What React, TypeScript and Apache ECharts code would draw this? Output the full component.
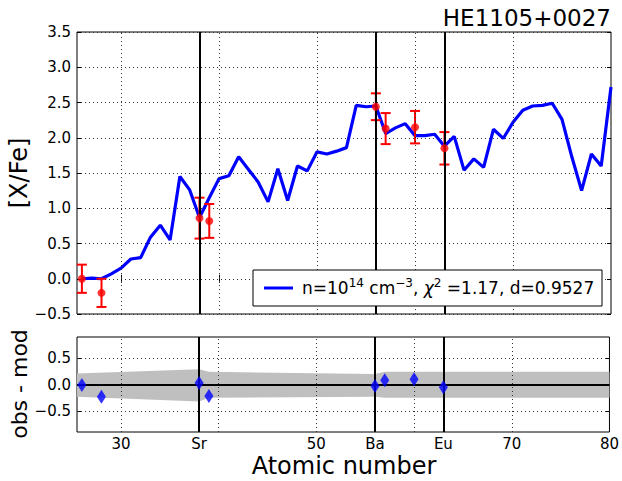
import React, { useEffect, useRef } from 'react';
import * as echarts from 'echarts';

// ---- data ----
const modelZ = [26, 27, 28, 29, 30, 31, 32, 33, 34, 35, 36, 37, 38, 39, 40, 41, 42, 43, 44, 45, 46, 47, 48, 49, 50, 51, 52, 53, 54, 55, 56, 57, 58, 59, 60, 61, 62, 63, 64, 65, 66, 67, 68, 69, 70, 71, 72, 73, 74, 75, 76, 77, 78, 79, 80];
const modelValues = [0.0, 0.01, 0.0, 0.07, 0.15, 0.28, 0.3, 0.59, 0.76, 0.55, 1.45, 1.26, 0.87, 1.15, 1.42, 1.46, 1.73, 1.55, 1.37, 1.09, 1.56, 1.11, 1.6, 1.53, 1.8, 1.77, 1.81, 1.86, 2.46, 2.44, 2.45, 2.06, 2.14, 2.2, 2.03, 2.03, 2.05, 1.88, 2.02, 1.54, 1.7, 1.58, 2.12, 1.99, 2.22, 2.39, 2.45, 2.46, 2.49, 2.26, 1.73, 1.25, 1.77, 1.6, 2.72];
const obsZ = [26, 28, 38, 39, 56, 57, 60, 63];
const obsValues = [0.0, -0.2, 0.86, 0.82, 2.44, 2.13, 2.15, 1.85];
const obsErrors = [0.2, 0.2, 0.29, 0.24, 0.19, 0.22, 0.23, 0.23];
const residuals = [-0.01, -0.23, 0.03, -0.22, -0.03, 0.08, 0.1, -0.05];
const bandZ = [25.5, 38, 39, 56, 57, 80];
const bandUpper = [0.21, 0.29, 0.24, 0.2, 0.24, 0.24];
const bandLower = [-0.23, -0.32, -0.25, -0.23, -0.25, -0.25];
const elementLines = [38, 56, 63];
const gridLinesX = [30, 40, 50, 60, 70];
const xTickValues = [30, 38, 50, 56, 63, 70, 80];
const xTickNames: Record<number, string> = { 38: 'Sr', 56: 'Ba', 63: 'Eu' };
const bottomYTicks = [-0.5, 0, 0.5];

const FONT = '"DejaVu Sans", "Liberation Sans", sans-serif';
const fmt = (v: number) => (v < 0 ? '\u2212' + Math.abs(v).toFixed(1) : v.toFixed(1));

const dotted = { type: [1, 3] as any, width: 1, color: '#333' };
const solidBlack = { type: 'solid' as any, width: 2, color: '#000' };

export default function App() {
  const ref = useRef<HTMLDivElement>(null);
  useEffect(() => {
    if (!ref.current) return;
    const chart = echarts.init(ref.current, null, { renderer: 'svg' });

    const xBase = (gridIndex: number, position: string, showLabel: boolean) => ({
      type: 'value',
      gridIndex,
      position,
      min: 25.5,
      max: 80,
      axisLine: { show: false },
      axisTick: { show: true, inside: true, length: 4, customValues: gridLinesX, lineStyle: { color: '#000' } },
      axisLabel: showLabel
        ? {
            show: true,
            customValues: xTickValues,
            formatter: (v: number) => xTickNames[v] ?? String(v),
            color: '#000',
            fontSize: 15,
            fontFamily: FONT,
            margin: 4,
          }
        : { show: false },
      splitLine: { show: false },
    });

    const option: any = {
      animation: false,
      backgroundColor: '#fff',
      grid: [
        { left: 77, top: 32, right: 11, height: 282, show: true, borderColor: '#000', borderWidth: 1, backgroundColor: 'transparent' },
        { left: 77, top: 337, right: 11, height: 95, show: true, borderColor: '#000', borderWidth: 1, backgroundColor: 'transparent' },
      ],
      xAxis: [xBase(0, 'bottom', false), xBase(1, 'bottom', true), xBase(0, 'top', false), xBase(1, 'top', false)],
      yAxis: [
        {
          type: 'value', gridIndex: 0, min: -0.5, max: 3.5, interval: 0.5,
          axisLine: { show: false },
          axisTick: { show: true, inside: true, length: 4, lineStyle: { color: '#000' } },
          axisLabel: { formatter: fmt, color: '#000', fontSize: 15, fontFamily: FONT, margin: 6 },
          splitLine: { show: true, lineStyle: dotted },
        },
        {
          type: 'value', gridIndex: 1, min: -0.9, max: 0.9,
          axisLine: { show: false },
          axisTick: { show: true, inside: true, length: 4, customValues: bottomYTicks, lineStyle: { color: '#000' } },
          axisLabel: { customValues: bottomYTicks, formatter: fmt, color: '#000', fontSize: 15, fontFamily: FONT, margin: 6 },
          splitLine: { show: false },
        },
        {
          type: 'value', gridIndex: 0, position: 'right', min: -0.5, max: 3.5, interval: 0.5,
          axisLine: { show: false },
          axisTick: { show: true, inside: true, length: 4, lineStyle: { color: '#000' } },
          axisLabel: { show: false },
          splitLine: { show: false },
        },
        {
          type: 'value', gridIndex: 1, position: 'right', min: -0.9, max: 0.9,
          axisLine: { show: false },
          axisTick: { show: true, inside: true, length: 4, customValues: bottomYTicks, lineStyle: { color: '#000' } },
          axisLabel: { show: false },
          splitLine: { show: false },
        },
      ],
      series: [
        // top panel reference lines
        {
          type: 'line', xAxisIndex: 0, yAxisIndex: 0, z: 1,
          data: [[25.5, -0.5]], symbol: 'none', lineStyle: { opacity: 0 }, silent: true,
          markLine: {
            silent: true, symbol: ['none', 'none'], label: { show: false },
            data: [
              ...gridLinesX.map((x) => ({ xAxis: x, lineStyle: dotted })),
              ...elementLines.map((x) => ({ xAxis: x, lineStyle: solidBlack })),
            ],
          },
        },
        {
          name: 'model', type: 'line', xAxisIndex: 0, yAxisIndex: 0, z: 3,
          data: modelZ.map((z, i) => [z, modelValues[i]]),
          symbol: 'none', lineStyle: { color: '#0000ff', width: 3.2 }, itemStyle: { color: '#0000ff' },
        },
        {
          type: 'custom', xAxisIndex: 0, yAxisIndex: 0, z: 4,
          data: obsZ.map((z, i) => [z, obsValues[i] - obsErrors[i], obsValues[i] + obsErrors[i]]),
          encode: { x: 0, y: [1, 2] },
          renderItem: (params: any, api: any) => {
            const x = api.value(0);
            const top = api.coord([x, api.value(2)]);
            const bot = api.coord([x, api.value(1)]);
            const w = 5;
            const st = { stroke: '#ff0000', lineWidth: 2 };
            return {
              type: 'group',
              children: [
                { type: 'line', shape: { x1: top[0], y1: top[1], x2: bot[0], y2: bot[1] }, style: st },
                { type: 'line', shape: { x1: top[0] - w, y1: top[1], x2: top[0] + w, y2: top[1] }, style: st },
                { type: 'line', shape: { x1: bot[0] - w, y1: bot[1], x2: bot[0] + w, y2: bot[1] }, style: st },
              ],
            };
          },
        },
        {
          type: 'scatter', xAxisIndex: 0, yAxisIndex: 0, z: 5,
          data: obsZ.map((z, i) => [z, obsValues[i]]),
          symbol: 'circle', symbolSize: 8, itemStyle: { color: '#ff0000' },
        },
        // bottom panel
        {
          type: 'line', xAxisIndex: 1, yAxisIndex: 1, z: 1,
          data: bandZ.map((z, i) => [z, bandUpper[i]]),
          symbol: 'none', lineStyle: { opacity: 0, width: 0 },
          areaStyle: { color: '#bfbfbf', opacity: 1, origin: 'auto' },
        },
        {
          type: 'line', xAxisIndex: 1, yAxisIndex: 1, z: 1,
          data: bandZ.map((z, i) => [z, bandLower[i]]),
          symbol: 'none', lineStyle: { opacity: 0, width: 0 },
          areaStyle: { color: '#bfbfbf', opacity: 1, origin: 'auto' },
        },
        {
          type: 'line', xAxisIndex: 1, yAxisIndex: 1, z: 2,
          data: [[25.5, 0]], symbol: 'none', lineStyle: { opacity: 0 }, silent: true,
          markLine: {
            silent: true, symbol: ['none', 'none'], label: { show: false },
            data: [
              ...gridLinesX.map((x) => ({ xAxis: x, lineStyle: dotted })),
              { yAxis: 0.5, lineStyle: dotted },
              { yAxis: -0.5, lineStyle: dotted },
              ...elementLines.map((x) => ({ xAxis: x, lineStyle: solidBlack })),
              { yAxis: 0, lineStyle: solidBlack },
            ],
          },
        },
        {
          type: 'scatter', xAxisIndex: 1, yAxisIndex: 1, z: 5,
          data: obsZ.map((z, i) => [z, residuals[i]]),
          symbol: 'diamond', symbolSize: [9, 14], itemStyle: { color: '#0000ff' },
        },
      ],
      graphic: [
        {
          type: 'text', x: 611, y: 18, z: 10,
          style: { text: 'HE1105+0027', fill: '#000', fontSize: 23, fontFamily: FONT, textAlign: 'right', textVerticalAlign: 'middle' },
        },
        {
          type: 'text', x: 19, y: 173, rotation: Math.PI / 2, z: 10,
          style: { text: '[X/Fe]', fill: '#000', fontSize: 24, fontFamily: FONT, textAlign: 'center', textVerticalAlign: 'middle' },
        },
        {
          type: 'text', x: 19, y: 384, rotation: Math.PI / 2, z: 10,
          style: { text: 'obs - mod', fill: '#000', fontSize: 22, fontFamily: FONT, textAlign: 'center', textVerticalAlign: 'middle' },
        },
        {
          type: 'text', x: 344, y: 466, z: 10,
          style: { text: 'Atomic number', fill: '#000', fontSize: 24, fontFamily: FONT, textAlign: 'center', textVerticalAlign: 'middle' },
        },
        {
          type: 'group', z: 20,
          children: [
            { type: 'rect', shape: { x: 253, y: 270, width: 349, height: 36 }, style: { fill: '#fff', stroke: '#000', lineWidth: 1 }, z: 20 },
            { type: 'line', shape: { x1: 264, y1: 288, x2: 293, y2: 288 }, style: { stroke: '#0000ff', lineWidth: 3 }, z: 21 },
            {
              type: 'text', x: 302, y: 288, z: 21,
              style: {
                text: 'n=10{sup|14}{b| cm}{sup|\u22123}{b|, }{it|\u03c7}{sup|2}{b| =1.17, d=0.9527}',
                fill: '#000', fontSize: 17, fontFamily: FONT, textVerticalAlign: 'middle', lineHeight: 22,
                rich: {
                  b: { fontSize: 17, fontFamily: FONT, lineHeight: 22, fill: '#000' },
                  it: { fontSize: 17, fontFamily: FONT, fontStyle: 'italic', lineHeight: 22, fill: '#000' },
                  sup: { fontSize: 12, fontFamily: FONT, lineHeight: 12, verticalAlign: 'top', fill: '#000' },
                },
              },
            },
          ],
        },
      ],
    };
    chart.setOption(option);
    return () => chart.dispose();
  }, []);
  return <div ref={ref} style={{ position: 'fixed', left: 0, top: 0, width: 622, height: 481, background: '#fff' }} />;
}
